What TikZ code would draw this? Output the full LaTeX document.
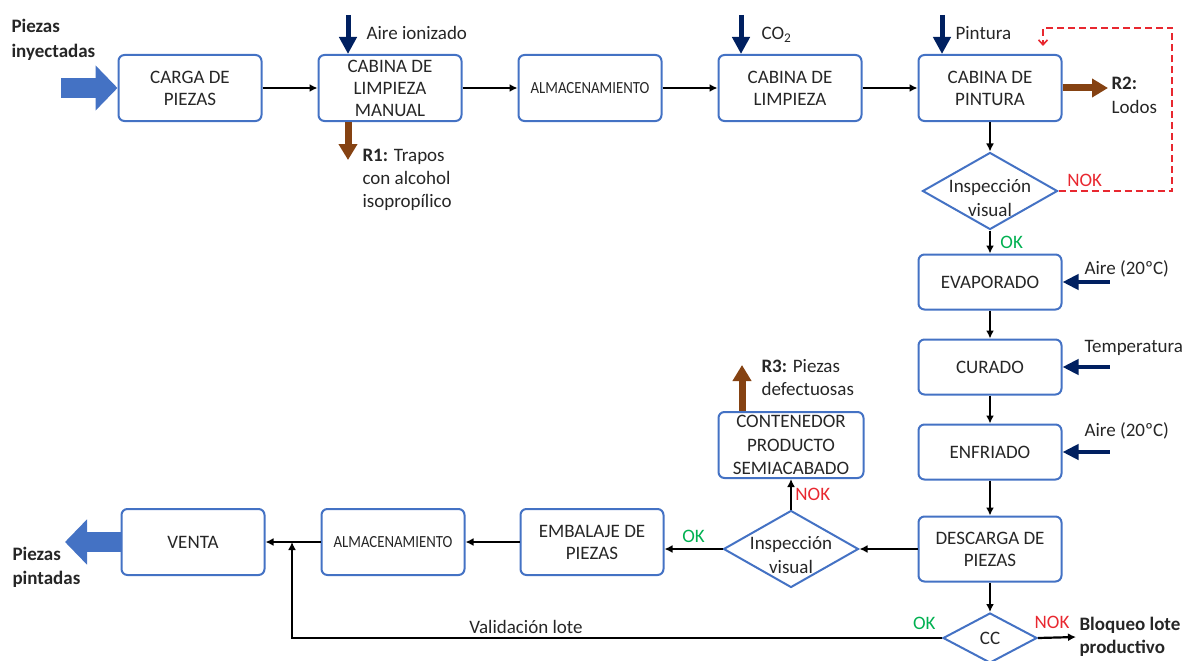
\documentclass[tikz,border=0pt]{standalone}
\usepackage{fontspec}
\setmainfont{Carlito}
\usepackage{graphicx}
\usetikzlibrary{shapes.geometric,arrows.meta}

\definecolor{boxblue}{RGB}{68,114,196}
\definecolor{inblue}{RGB}{0,32,96}
\definecolor{waste}{RGB}{133,66,18}
\definecolor{okgreen}{RGB}{0,176,80}
\definecolor{nokred}{RGB}{232,40,48}
\definecolor{txt}{RGB}{38,38,38}

\tikzset{
  proc/.style={draw=boxblue, line width=2pt, rounded corners=6pt, minimum width=143pt,
    minimum height=66pt, inner sep=1pt, align=center},
  check/.style={diamond, draw=boxblue, line width=2pt, inner sep=0pt,
    minimum width=135pt, minimum height=77pt},
  checktext/.style={align=center, font=\fontsize{19}{24}\selectfont},
  flow/.style={line width=2.2pt, -{Latex[length=8pt,width=8pt]}},
  inflow/.style={color=inblue, line width=5pt, -{Triangle[length=17pt,width=17pt]}},
  sidein/.style={color=inblue, line width=4.5pt, -{Triangle[length=16pt,width=15pt]}},
  outflow/.style={color=waste, line width=7pt, -{Triangle[length=16pt,width=18pt]}},
  bulk/.style={color=boxblue, line width=20pt, -{Triangle[length=22pt,width=44pt]}},
  retry/.style={color=nokred, line width=1.6pt, dash pattern=on 7pt off 4pt,
    -{Straight Barb[length=5pt,width=9pt]}},
  okmark/.style={text=okgreen},
  nokmark/.style={text=nokred},
  note/.style={align=left, anchor=west},
  narrowcaps/.style={font=\fontsize{17}{20}\selectfont},
}

\begin{document}
\begin{tikzpicture}[x=1pt, y=-1pt, node distance=200pt,
    font=\fontsize{19}{22}\selectfont, every node/.style={text=txt}]
    \useasboundingbox (0,0) rectangle (1184,661);

    \node(carga)[proc] at (190,88) {CARGA DE\\PIEZAS};
    \node(manual)[proc, right of=carga] {CABINA DE\\LIMPIEZA\\MANUAL};
    \node(almac1)[proc, narrowcaps, right of=manual] {\scalebox{.87}[1]{ALMACENAMIENTO}};
    \node(limpieza)[proc, right of=almac1] {CABINA DE\\LIMPIEZA};
    \node(pintura)[proc, right of=limpieza] {CABINA DE\\PINTURA};

    \node(insp1)[check, below of=pintura, node distance=103pt] {};
    \node(insp1t)[checktext] at ([yshift=-7pt]insp1) {Inspección\\visual};
    \node(evap)[proc, minimum height=55pt, below of=insp1, node distance=91pt] {EVAPORADO};
    \node(curado)[proc, minimum height=55pt, below of=evap, node distance=85pt] {CURADO};
    \node(enfriado)[proc, minimum height=55pt, below of=curado, node distance=85pt] {ENFRIADO};
    \node(descarga)[proc, minimum height=65pt, below of=enfriado, node distance=97pt] {DESCARGA DE\\PIEZAS};
    \node(cc)[check, minimum width=94pt, minimum height=50pt, below of=descarga, node distance=89pt] {CC};

    \node(insp2)[check, left of=descarga, node distance=199pt] {};
    \node(insp2t)[checktext] at ([yshift=-6pt]insp2) {Inspección\\visual};
    \node(contenedor)[proc, minimum width=145pt, font=\fontsize{19}{23.5}\selectfont,
        above of=insp2, node distance=104pt] {CONTENEDOR\\PRODUCTO\\SEMIACABADO};

    \node(venta)[proc] at (193,542) {VENTA};
    \node(almac2)[proc, narrowcaps, right of=venta, node distance=200pt] {\scalebox{.87}[1]{ALMACENAMIENTO}};
    \node(embalaje)[proc, right of=almac2, node distance=199pt] {EMBALAJE DE\\PIEZAS};

    \node(bloqueo)[note, font=\fontsize{19}{23}\selectfont\bfseries] at (1076,637) {Bloqueo lote\\productivo};
    \node(inl)[note, font=\fontsize{19}{25}\selectfont\bfseries] at (8,40) {Piezas\\inyectadas};
    \node(outl)[note, font=\fontsize{19}{24}\selectfont\bfseries] at (9,567) {Piezas\\pintadas};

    \coordinate(inpt) at (61,88);
    \coordinate(outpt) at (65,542);
    \coordinate(merge) at (292,542);
    \coordinate(ionsrc) at (348,15);
    \coordinate(co2src) at (741,15);
    \coordinate(paintsrc) at (942,15);
    \coordinate(r1end) at (348,160);
    \coordinate(r2end) at (1108,88);
    \coordinate(r3end) at (742,365);
    \coordinate(loopa) at (1172,28);
    \coordinate(loopb) at (1043,46);
    \coordinate(airevap) at ([xshift=47pt]evap.east);
    \coordinate(heatcur) at ([xshift=47pt]curado.east);
    \coordinate(airenf) at ([xshift=47pt]enfriado.east);

    \draw[bulk] (inpt) -- (carga.west);
    \draw[bulk] (venta.west) -- (outpt);

    \draw[flow] (carga) -- (manual);
    \draw[flow] (manual) -- (almac1);
    \draw[flow] (almac1) -- (limpieza);
    \draw[flow] (limpieza) -- (pintura);
    \draw[flow] (pintura) -- (insp1);
    \draw[flow] (insp1) -- (evap) node[midway, right, xshift=6pt, okmark] {OK};
    \draw[flow] (evap) -- (curado);
    \draw[flow] (curado) -- (enfriado);
    \draw[flow] (enfriado) -- (descarga);
    \draw[flow] (descarga) -- (cc);
    \draw[flow] (descarga) -- (insp2);
    \draw[flow] (insp2.west) -- (insp2.west -| embalaje.east) node[midway, above, yshift=2pt, okmark] {OK};
    \draw[flow] (insp2) -- (contenedor) node[midway, right, nokmark] {NOK};
    \draw[flow] (embalaje) -- (almac2);
    \draw[flow] (almac2) -- (venta);
    \draw[flow] (cc.west) -| (merge) node[pos=0, above left, yshift=4pt, xshift=-2pt, okmark] {OK}
        node[pos=0.32, above] {Validación lote};
    \draw[flow] (cc.east) -- (bloqueo.west) node[midway, above, yshift=4pt, xshift=-5pt, nokmark] {NOK};

    \draw[retry] (insp1.east) -| (loopa) node[pos=0.115, above, nokmark] {NOK} -| (loopb);

    \draw[inflow] (ionsrc) -- (ionsrc |- manual.north);
    \draw[inflow] (co2src) -- (co2src |- limpieza.north);
    \draw[inflow] (paintsrc) -- (paintsrc |- pintura.north);
    \node(ionl)[note] at (363,33) {Aire ionizado};
    \node(co2l)[note] at (758,35) {CO\textsubscript{2}};
    \node(paintl)[note] at (952,33) {Pintura};

    \draw[sidein] (airevap) -- (evap.east);
    \draw[sidein] (heatcur) -- (curado.east);
    \draw[sidein] (airenf) -- (enfriado.east);
    \node(airevapl)[note] at (1081,269) {Aire (20ºC)};
    \node(heatcurl)[note] at (1081,348) {Temperatura};
    \node(airenfl)[note] at (1081,431) {Aire (20ºC)};

    \draw[outflow] (r1end |- manual.south) -- (r1end);
    \draw[outflow] (pintura.east) -- (r2end);
    \draw[outflow] (r3end |- contenedor.north) -- (r3end);
    \node(r1l)[note, font=\fontsize{19}{23}\selectfont] at (359,180) {\textbf{R1:} Trapos\\con alcohol\\isopropílico};
    \node(r2l)[note, font=\fontsize{19}{24}\selectfont] at (1108,95) {\textbf{R2:}\\Lodos};
    \node(r3l)[note, font=\fontsize{19}{23}\selectfont] at (758,378) {\textbf{R3:} Piezas\\defectuosas};
\end{tikzpicture}
\end{document}
